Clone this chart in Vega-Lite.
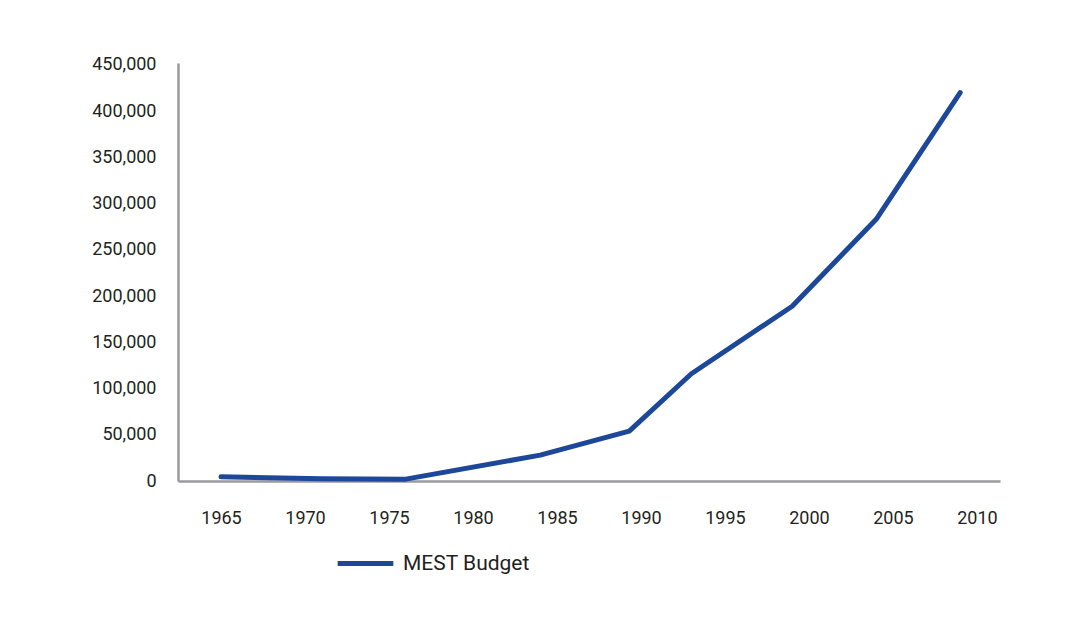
{
  "$schema": "https://vega.github.io/schema/vega-lite/v6.json",
  "autosize": "none",
  "width": 822,
  "height": 418,
  "padding": {"left": 178, "top": 63, "right": 78, "bottom": 147},
  "background": "white",
  "config": {
    "view": {"stroke": null},
    "font": "Roboto"
  },
  "data": {
    "values": [
      {"year": 1965, "budget": 4500, "series": "MEST Budget"},
      {"year": 1971, "budget": 2500, "series": "MEST Budget"},
      {"year": 1976, "budget": 2000, "series": "MEST Budget"},
      {"year": 1984, "budget": 28000, "series": "MEST Budget"},
      {"year": 1989.3, "budget": 54000, "series": "MEST Budget"},
      {"year": 1993, "budget": 116000, "series": "MEST Budget"},
      {"year": 1999, "budget": 189000, "series": "MEST Budget"},
      {"year": 2004, "budget": 283000, "series": "MEST Budget"},
      {"year": 2009, "budget": 420000, "series": "MEST Budget"}
    ]
  },
  "mark": {"type": "line", "strokeWidth": 5, "strokeCap": "round", "strokeJoin": "round"},
  "encoding": {
    "x": {
      "field": "year",
      "type": "quantitative",
      "scale": {"domain": [1962.44, 2011.37], "nice": false, "zero": false},
      "axis": {
        "title": null,
        "values": [1965, 1970, 1975, 1980, 1985, 1990, 1995, 2000, 2005, 2010],
        "format": "d",
        "grid": false,
        "ticks": false,
        "domainColor": "#9a9a9e",
        "domainWidth": 2.5,
        "labelFont": "Roboto",
        "labelFontSize": 18,
        "labelColor": "#231f20",
        "labelPadding": 28,
        "labelFlush": false
      }
    },
    "y": {
      "field": "budget",
      "type": "quantitative",
      "scale": {"domain": [0, 452000], "nice": false},
      "axis": {
        "title": null,
        "values": [0, 50000, 100000, 150000, 200000, 250000, 300000, 350000, 400000, 450000],
        "format": ",d",
        "grid": false,
        "ticks": false,
        "domainColor": "#9a9a9e",
        "domainWidth": 2.5,
        "labelFont": "Roboto",
        "labelFontSize": 18,
        "labelColor": "#231f20",
        "labelPadding": 22
      }
    },
    "color": {
      "field": "series",
      "type": "nominal",
      "scale": {"range": ["#1d4799"]},
      "legend": {
        "title": null,
        "orient": "none",
        "legendX": 157,
        "legendY": 470,
        "symbolType": "stroke",
        "symbolSize": 3100,
        "symbolStrokeWidth": 5,
        "labelFont": "Roboto",
        "labelFontSize": 21,
        "labelColor": "#231f20",
        "labelOffset": 7
      }
    }
  }
}
